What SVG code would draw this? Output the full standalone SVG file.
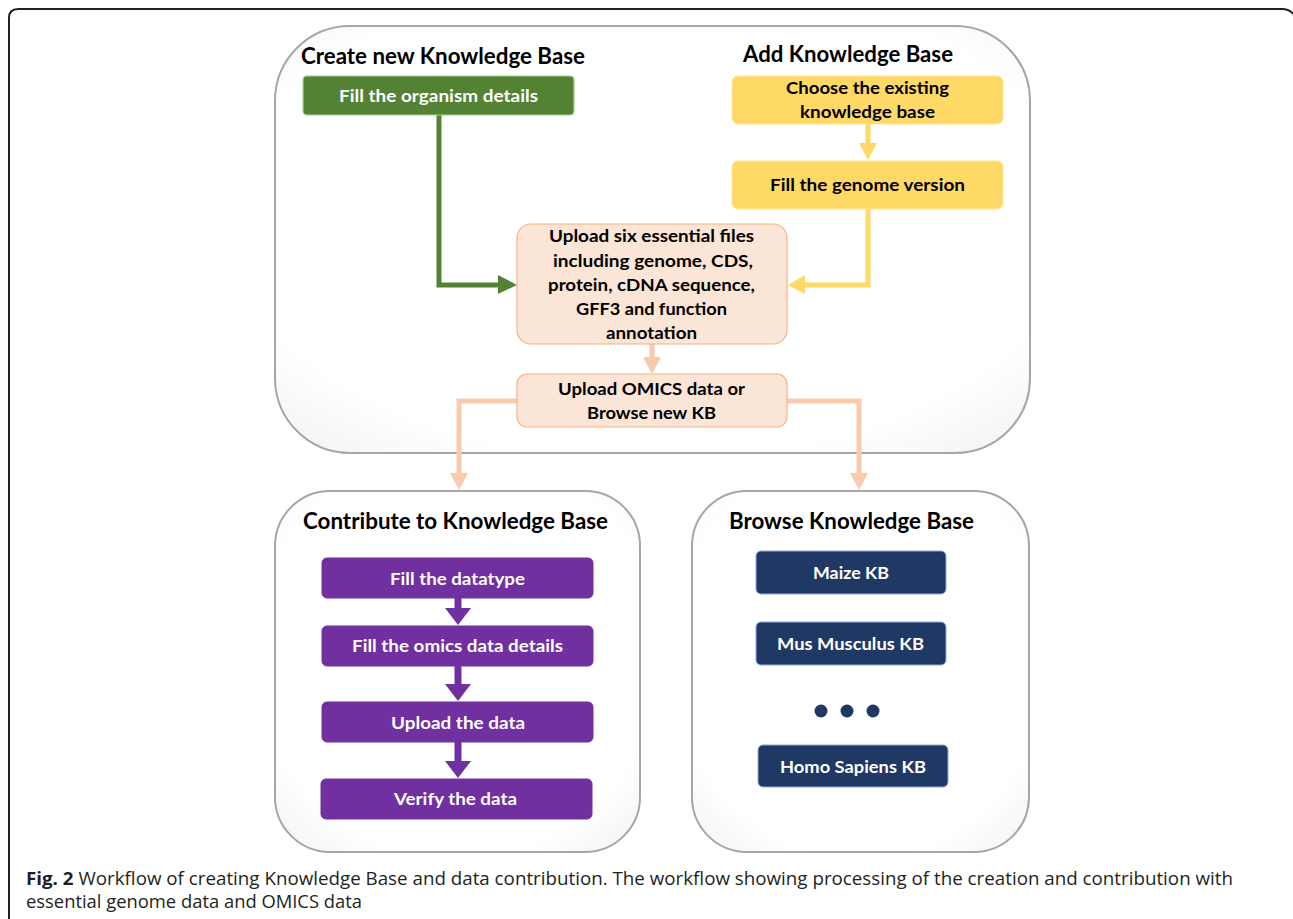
<svg xmlns="http://www.w3.org/2000/svg" width="1293" height="919" viewBox="0 0 1293 919">
<style>
.panel{fill:url(#pg);stroke:#a6a6a6;stroke-width:2}
.title{font-family:Lato,"Open Sans",sans-serif;font-weight:bold;font-size:22px;fill:#000}
.bt{font-family:Lato,"Open Sans",sans-serif;font-weight:bold;font-size:17.5px;text-anchor:middle}
.w{fill:#fff}.k{fill:#000}
.green{fill:#548235;stroke:#a9d18e;stroke-width:1.2}
.yellow{fill:#ffd966;stroke:#ffe699;stroke-width:1}
.peach{fill:#fbe5d6;stroke:#f4b183;stroke-width:1.2}
.purple{fill:#7030a0;stroke:#7030a0;stroke-width:1}
.navy{fill:#203864;stroke:#8faadc;stroke-width:1}
.cap{font-family:"Open Sans","Liberation Sans",sans-serif;font-size:18px;fill:#231f20}
</style>
<defs>
<radialGradient id="pg" cx="0.5" cy="0.45" r="0.75">
<stop offset="0.75" stop-color="#ffffff"/>
<stop offset="1" stop-color="#f1f1f1"/>
</radialGradient>
</defs>
<rect width="1293" height="919" fill="#fff"/>
<path d="M9,919 V18 Q9,9 18,9 H1282 Q1290,9 1295,16" fill="none" stroke="#231f20" stroke-width="2"/>

<g id="panel-top"><rect class="panel" x="275" y="26" width="755" height="427" rx="75" ry="75"/>
<text class="title" x="301" y="64" textLength="284" lengthAdjust="spacingAndGlyphs">Create new Knowledge Base</text>
<text class="title" x="743" y="62" textLength="210" lengthAdjust="spacingAndGlyphs">Add Knowledge Base</text></g>
<g id="panel-contribute"><rect class="panel" x="275" y="491" width="365" height="361" rx="55" ry="55"/>
<text class="title" x="303" y="529" textLength="305" lengthAdjust="spacingAndGlyphs">Contribute to Knowledge Base</text></g>
<g id="panel-browse"><rect class="panel" x="692" y="491" width="337" height="361" rx="55" ry="55"/>
<text class="title" x="729" y="529" textLength="245" lengthAdjust="spacingAndGlyphs">Browse Knowledge Base</text></g>

<g id="connectors">
<polyline points="439,115 439,285 500,285" fill="none" stroke="#548235" stroke-width="5"/>
<polygon points="498,275 517,285 498,294" fill="#548235"/>
<line x1="868" y1="124" x2="868" y2="144" stroke="#ffd966" stroke-width="5"/>
<polygon points="859,143 877,143 868,160" fill="#ffd966"/>
<polyline points="868,209 868,285 804,285" fill="none" stroke="#ffd966" stroke-width="5"/>
<polygon points="805,275 788,285 805,294" fill="#ffd966"/>
<line x1="652" y1="344" x2="652" y2="358" stroke="#f8cbad" stroke-width="5"/>
<polygon points="643,357 661,357 652,374" fill="#f8cbad"/>
<polyline points="517,401 459,401 459,474" fill="none" stroke="#f8cbad" stroke-width="5"/>
<polygon points="450,473 468,473 459,490" fill="#f8cbad"/>
<polyline points="787,401 859,401 859,474" fill="none" stroke="#f8cbad" stroke-width="5"/>
<polygon points="850,473 868,473 859,490" fill="#f8cbad"/>
<line x1="458" y1="598" x2="458" y2="610" stroke="#7030a0" stroke-width="7"/>
<polygon points="445,608 471,608 458,625" fill="#7030a0"/>
<line x1="458" y1="666" x2="458" y2="686" stroke="#7030a0" stroke-width="7"/>
<polygon points="445,684 471,684 458,701" fill="#7030a0"/>
<line x1="458" y1="742" x2="458" y2="763" stroke="#7030a0" stroke-width="7"/>
<polygon points="445,761 471,761 458,778" fill="#7030a0"/>
</g>

<g id="n-organism"><rect class="green" x="303" y="76" width="271" height="39" rx="4"/>
<text class="bt w" x="438.5" y="102" textLength="199" lengthAdjust="spacingAndGlyphs">Fill the organism details</text></g>
<g id="n-choose"><rect class="yellow" x="732" y="76" width="271" height="48" rx="6"/>
<text class="bt k" x="867.5" y="94" textLength="163" lengthAdjust="spacingAndGlyphs">Choose the existing</text>
<text class="bt k" x="867.5" y="118" textLength="135" lengthAdjust="spacingAndGlyphs">knowledge base</text></g>
<g id="n-genome"><rect class="yellow" x="732" y="161" width="271" height="48" rx="6"/>
<text class="bt k" x="867.5" y="191" textLength="195" lengthAdjust="spacingAndGlyphs">Fill the genome version</text></g>
<g id="n-upload6"><rect class="peach" x="517" y="224" width="270" height="120" rx="14"/>
<text class="bt k" x="651.5" y="242" textLength="205" lengthAdjust="spacingAndGlyphs">Upload six essential files</text>
<text class="bt k" x="653" y="267" textLength="200" lengthAdjust="spacingAndGlyphs">including genome, CDS,</text>
<text class="bt k" x="651.5" y="291" textLength="207" lengthAdjust="spacingAndGlyphs">protein, cDNA sequence,</text>
<text class="bt k" x="651.5" y="315" textLength="151" lengthAdjust="spacingAndGlyphs">GFF3 and function</text>
<text class="bt k" x="651.5" y="339" textLength="91" lengthAdjust="spacingAndGlyphs">annotation</text></g>
<g id="n-omics"><rect class="peach" x="517" y="374" width="270" height="53" rx="10"/>
<text class="bt k" x="651.5" y="395" textLength="187" lengthAdjust="spacingAndGlyphs">Upload OMICS data or</text>
<text class="bt k" x="651.5" y="419" textLength="129" lengthAdjust="spacingAndGlyphs">Browse new KB</text></g>

<g id="n-datatype"><rect class="purple" x="322" y="558" width="271" height="40" rx="5"/>
<text class="bt w" x="457.5" y="585" textLength="135" lengthAdjust="spacingAndGlyphs">Fill the datatype</text></g>
<g id="n-omicsdetails"><rect class="purple" x="322" y="626" width="271" height="40" rx="5"/>
<text class="bt w" x="457.5" y="652" textLength="211" lengthAdjust="spacingAndGlyphs">Fill the omics data details</text></g>
<g id="n-uploaddata"><rect class="purple" x="322" y="702" width="271" height="40" rx="5"/>
<text class="bt w" x="458" y="729" textLength="134" lengthAdjust="spacingAndGlyphs">Upload the data</text></g>
<g id="n-verify"><rect class="purple" x="321" y="779" width="271" height="40" rx="5"/>
<text class="bt w" x="455.5" y="805" textLength="123" lengthAdjust="spacingAndGlyphs">Verify the data</text></g>

<g id="n-maize"><rect class="navy" x="756" y="551" width="190" height="43" rx="5"/>
<text class="bt w" x="851" y="579" textLength="76" lengthAdjust="spacingAndGlyphs">Maize KB</text></g>
<g id="n-mus"><rect class="navy" x="756" y="622" width="190" height="43" rx="5"/>
<text class="bt w" x="850.5" y="650" textLength="147" lengthAdjust="spacingAndGlyphs">Mus Musculus KB</text></g>
<g id="n-dots" fill="#203864"><circle cx="821" cy="711" r="6.5"/><circle cx="847" cy="711" r="6.5"/><circle cx="873" cy="711" r="6.5"/></g>
<g id="n-homo"><rect class="navy" x="758" y="745" width="190" height="42" rx="5"/>
<text class="bt w" x="853" y="773" textLength="146" lengthAdjust="spacingAndGlyphs">Homo Sapiens KB</text></g>

<g id="caption">
<text class="cap" x="26" y="885" textLength="1207" lengthAdjust="spacingAndGlyphs"><tspan font-weight="bold">Fig. 2</tspan> Workflow of creating Knowledge Base and data contribution. The workflow showing processing of the creation and contribution with</text>
<text class="cap" x="26" y="908" textLength="336" lengthAdjust="spacingAndGlyphs">essential genome data and OMICS data</text>
</g>
</svg>
